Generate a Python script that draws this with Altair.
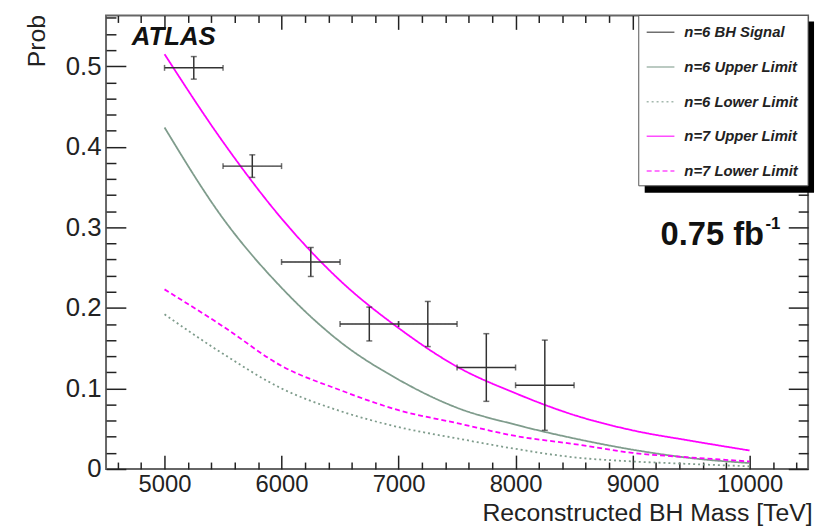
import altair as alt
import pandas as pd

# ---------------- data ----------------
mass_grid = [5000, 5500, 6000, 6500, 7000, 7500, 8000, 8500, 9000, 9500, 10000]
n7_upper = [0.515, 0.406, 0.311, 0.234, 0.175, 0.127, 0.094, 0.067, 0.048, 0.035, 0.023]
n6_upper = [0.424, 0.311, 0.225, 0.158, 0.111, 0.076, 0.055, 0.038, 0.024, 0.0135, 0.0074]
n7_lower = [0.223, 0.177, 0.128, 0.098, 0.073, 0.057, 0.041, 0.031, 0.020, 0.0143, 0.0094]
n6_lower = [0.192, 0.143, 0.100, 0.072, 0.052, 0.038, 0.025, 0.0145, 0.0094, 0.0062, 0.0033]

pt_mass = [5250, 5750, 6250, 6750, 7250, 7750, 8250]
pt_prob = [0.498, 0.376, 0.257, 0.180, 0.180, 0.126, 0.104]
pt_err = [0.014, 0.014, 0.018, 0.021, 0.028, 0.042, 0.056]
bin_half = 250

series_names = ["n=6 BH Signal", "n=6 Upper Limit", "n=6 Lower Limit",
                "n=7 Upper Limit", "n=7 Lower Limit"]
series_colors = ["#333333", "#7f9c8c", "#7f9c8c", "#ff00ff", "#ff00ff"]
series_dash = [[1, 0], [1, 0], [2, 3], [1, 0], [5, 3]]

x_major = [5000, 6000, 7000, 8000, 9000, 10000]
x_minor = [v for v in range(4600, 10500, 200) if v % 1000 != 0]
y_major = [0, 0.1, 0.2, 0.3, 0.4, 0.5]
y_minor = [round(0.02 * i, 2) for i in range(1, 29) if i % 5 != 0]

atlas_label = ["ATLAS"]
lumi_label = ["0.75 fb"]
lumi_sup = ["-1"]
x_title = "Reconstructed BH Mass [TeV]"
y_title = "Prob"

# ---------------- tables ----------------
rows = []
for name, vals in [("n=6 Upper Limit", n6_upper), ("n=6 Lower Limit", n6_lower),
                   ("n=7 Upper Limit", n7_upper), ("n=7 Lower Limit", n7_lower)]:
    for m, p in zip(mass_grid, vals):
        rows.append({"mass": m, "prob": p, "series": name})
df_lines = pd.DataFrame(rows)

df_pts = pd.DataFrame({
    "mass": pt_mass,
    "prob": pt_prob,
    "xlo": [m - bin_half for m in pt_mass],
    "xhi": [m + bin_half for m in pt_mass],
    "ylo": [p - e for p, e in zip(pt_prob, pt_err)],
    "yhi": [p + e for p, e in zip(pt_prob, pt_err)],
    "series": ["n=6 BH Signal"] * len(pt_mass),
})

W, H = 709, 458
FONT = "Liberation Sans"

x_scale = alt.Scale(domain=[4500, 10500], nice=False, zero=False)
y_scale = alt.Scale(domain=[0, 0.563], nice=False, zero=False)

legend_kw = dict(title=None, orient="none", legendX=540, legendY=-3,
                 symbolType="stroke", symbolSize=784, symbolStrokeWidth=1.5,
                 labelFont=FONT, labelFontSize=15, labelFontWeight="bold",
                 labelFontStyle="italic", labelColor="#222", labelOffset=9,
                 padding=5, rowPadding=12, labelLimit=300)

color_enc = alt.Color("series:N", scale=alt.Scale(domain=series_names, range=series_colors),
                      legend=alt.Legend(**legend_kw))
dash_enc = alt.StrokeDash("series:N", scale=alt.Scale(domain=series_names, range=series_dash),
                          legend=alt.Legend(**legend_kw))

lines = alt.Chart(df_lines).mark_line(strokeWidth=1.8, interpolate="monotone").encode(
    x=alt.X("mass:Q", scale=x_scale,
            axis=alt.Axis(values=x_major, format="d", ticks=False, domain=False, grid=False,
                          labelFont=FONT, labelFontSize=24, labelColor="#222", labelPadding=4,
                          title=x_title, titleFont=FONT, titleFontSize=25,
                          titleFontWeight="normal", titleColor="#222",
                          titleAnchor="end", titleAlign="right", titleX=W + 4, titleY=52,
                          titleBaseline="alphabetic")),
    y=alt.Y("prob:Q", scale=y_scale,
            axis=alt.Axis(values=y_major, format="~g", ticks=False, domain=False, grid=False,
                          labelFont=FONT, labelFontSize=26, labelColor="#222", labelPadding=5,
                          title=y_title, titleFont=FONT, titleFontSize=25,
                          titleFontWeight="normal", titleColor="#222", titleAngle=270,
                          titleAlign="right", titleBaseline="alphabetic",
                          titleX=-62, titleY=-1)),
    color=color_enc,
    strokeDash=dash_enc,
    detail="series:N",
)

err_h = alt.Chart(df_pts).mark_rule(strokeWidth=1.5).encode(
    x=alt.X("xlo:Q", scale=x_scale, axis=None), x2="xhi:Q",
    y=alt.Y("prob:Q", scale=y_scale, axis=None),
    color=color_enc, strokeDash=dash_enc)
err_v = alt.Chart(df_pts).mark_rule(strokeWidth=1.5).encode(
    x=alt.X("mass:Q", scale=x_scale, axis=None),
    y=alt.Y("ylo:Q", scale=y_scale, axis=None), y2="yhi:Q",
    color=color_enc, strokeDash=dash_enc)
cap_top = alt.Chart(df_pts).mark_tick(orient="horizontal", size=6, thickness=1.5).encode(
    x=alt.X("mass:Q", scale=x_scale, axis=None),
    y=alt.Y("yhi:Q", scale=y_scale, axis=None), color=color_enc)
cap_bot = alt.Chart(df_pts).mark_tick(orient="horizontal", size=6, thickness=1.5).encode(
    x=alt.X("mass:Q", scale=x_scale, axis=None),
    y=alt.Y("ylo:Q", scale=y_scale, axis=None), color=color_enc)
cap_l = alt.Chart(df_pts).mark_tick(orient="vertical", size=6, thickness=1.5).encode(
    x=alt.X("xlo:Q", scale=x_scale, axis=None),
    y=alt.Y("prob:Q", scale=y_scale, axis=None), color=color_enc)
cap_r = alt.Chart(df_pts).mark_tick(orient="vertical", size=6, thickness=1.5).encode(
    x=alt.X("xhi:Q", scale=x_scale, axis=None),
    y=alt.Y("prob:Q", scale=y_scale, axis=None), color=color_enc)


def x_ticks(orient, offset, values, size):
    return alt.Chart(df_lines).mark_point(opacity=0).encode(
        x=alt.X("mass:Q", scale=x_scale,
                axis=alt.Axis(orient=orient, offset=offset, values=values, tickSize=size,
                              labels=False, domain=False, grid=False, title=None,
                              tickColor="#222", tickWidth=1.5)),
        y=alt.Y("prob:Q", scale=y_scale, axis=None))


def y_ticks(orient, offset, values, size):
    return alt.Chart(df_lines).mark_point(opacity=0).encode(
        x=alt.X("mass:Q", scale=x_scale, axis=None),
        y=alt.Y("prob:Q", scale=y_scale,
                axis=alt.Axis(orient=orient, offset=offset, values=values, tickSize=size,
                              labels=False, domain=False, grid=False, title=None,
                              tickColor="#222", tickWidth=1.5)))


tick_layers = [
    x_ticks("top", -H, x_major, 14), x_ticks("top", -H, x_minor, 7),
    x_ticks("bottom", -H, x_major, 14), x_ticks("bottom", -H, x_minor, 7),
    y_ticks("right", -W, y_major, 20), y_ticks("right", -W, y_minor, 10),
    y_ticks("left", -W, y_major, 20), y_ticks("left", -W, y_minor, 10),
]

box_df = pd.DataFrame({"k": [0]})
shadow = alt.Chart(box_df).mark_rect(color="black").encode(
    x=alt.value(544), x2=alt.value(715), y=alt.value(6), y2=alt.value(179))
legend_box = alt.Chart(box_df).mark_rect(fill="white", stroke="#555", strokeWidth=1).encode(
    x=alt.value(538), x2=alt.value(709), y=alt.value(0), y2=alt.value(172))

atlas = alt.Chart(pd.DataFrame({"t": atlas_label})).mark_text(
    font=FONT, fontSize=26, fontWeight="bold", fontStyle="italic", align="left",
    baseline="alphabetic", color="#111").encode(
    x=alt.value(26), y=alt.value(30), text="t:N")
lumi = alt.Chart(pd.DataFrame({"t": lumi_label})).mark_text(
    font=FONT, fontSize=33, fontWeight="bold", align="left",
    baseline="alphabetic", color="#111").encode(
    x=alt.value(560), y=alt.value(232), text="t:N")
lumi2 = alt.Chart(pd.DataFrame({"t": lumi_sup})).mark_text(
    font=FONT, fontSize=17, fontWeight="bold", align="left",
    baseline="alphabetic", color="#111").encode(
    x=alt.value(666), y=alt.value(216), text="t:N")

chart = alt.layer(
    shadow, legend_box, lines, err_h, err_v, cap_top, cap_bot, cap_l, cap_r,
    *tick_layers, atlas, lumi, lumi2
).resolve_scale(
    x="shared", y="shared"
).resolve_axis(
    x="independent", y="independent"
).properties(
    width=W, height=H,
    padding={"left": 99, "top": 5, "right": 9, "bottom": 55},
    autosize=alt.AutoSizeParams(type="none"),
    background="white",
).configure_view(stroke="#666", strokeWidth=2)

chart.save("out.html", embed_options={"renderer": "svg", "actions": False})
